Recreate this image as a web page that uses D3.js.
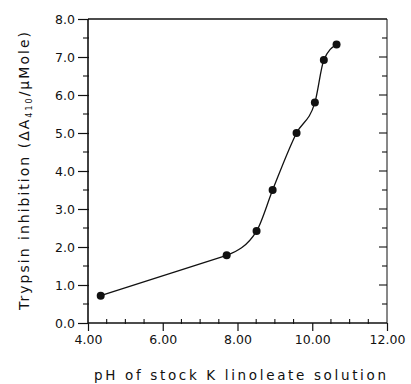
<!DOCTYPE html>
<html>
<head>
<meta charset="utf-8">
<script src="https://cdn.jsdelivr.net/npm/d3@7"></script>
<style>
  body { margin: 0; background: #fff; }
  svg { display: block; }
  text { font-family: "DejaVu Sans", sans-serif; fill: #111; }
</style>
</head>
<body>
<script>
// data
var phValues = [4.34, 7.71, 8.51, 8.94, 9.58, 10.07, 10.31, 10.65];
var inhibition = [0.72, 1.78, 2.42, 3.50, 5.00, 5.80, 6.92, 7.33];
var xTicks = [4, 6, 8, 10, 12];
var yTicks = [0, 1, 2, 3, 4, 5, 6, 7, 8];

var width = 411, height = 384;
var plotLeft = 88, plotRight = 387, plotTop = 19, plotBottom = 323;

var svg = d3.select("body").append("svg")
    .attr("width", width)
    .attr("height", height);

var x = d3.scaleLinear().domain([4, 12]).range([plotLeft, plotRight]);
var y = d3.scaleLinear().domain([0, 8]).range([plotBottom, plotTop]);

var ink = "#111";

// frame
svg.append("line").attr("x1", plotLeft).attr("x2", plotRight).attr("y1", plotTop).attr("y2", plotTop)
    .attr("stroke", ink).attr("stroke-width", 1.6);
svg.append("line").attr("x1", plotLeft).attr("x2", plotRight).attr("y1", plotBottom).attr("y2", plotBottom)
    .attr("stroke", ink).attr("stroke-width", 1.6);
svg.append("line").attr("x1", plotLeft).attr("x2", plotLeft).attr("y1", plotTop).attr("y2", plotBottom)
    .attr("stroke", ink).attr("stroke-width", 1.6);
svg.append("line").attr("x1", plotRight).attr("x2", plotRight).attr("y1", plotTop).attr("y2", plotBottom)
    .attr("stroke", ink).attr("stroke-width", 1);

// bottom axis
var xAxis = d3.axisBottom(x).tickValues(xTicks)
    .tickFormat(d3.format(".2f")).tickSize(8).tickPadding(4);
var gx = svg.append("g").attr("transform", "translate(0," + plotBottom + ")").call(xAxis);
gx.select(".domain").remove();
gx.selectAll("line").attr("stroke", ink).attr("stroke-width", 1.2);
gx.selectAll("text").style("font-size", "12.5px").style("font-family", "DejaVu Sans, sans-serif").attr("fill", ink);

// minor x ticks pointing in
var xMinor = d3.range(4.5, 12, 0.5).filter(function (d) { return d % 2 !== 0; });
svg.append("g").selectAll("line").data(xMinor).enter().append("line")
    .attr("x1", function (d) { return x(d); })
    .attr("x2", function (d) { return x(d); })
    .attr("y1", plotBottom + 1)
    .attr("y2", plotBottom - 4)
    .attr("stroke", ink).attr("stroke-width", 1.1);

// left axis, ticks stick out
var yAxis = d3.axisLeft(y).tickValues(yTicks)
    .tickFormat(d3.format(".1f")).tickSize(10).tickPadding(3);
var gy = svg.append("g").attr("transform", "translate(" + plotLeft + ",0)").call(yAxis);
gy.select(".domain").remove();
gy.selectAll("line").attr("stroke", ink).attr("stroke-width", 1.2).attr("x1", 1);
gy.selectAll("text").style("font-size", "12.5px").style("font-family", "DejaVu Sans, sans-serif").attr("fill", ink);

var yHalf = d3.range(0.5, 8, 1);
svg.append("g").selectAll("line").data(yHalf).enter().append("line")
    .attr("x1", plotLeft - 5).attr("x2", plotLeft + 1)
    .attr("y1", function (d) { return y(d); })
    .attr("y2", function (d) { return y(d); })
    .attr("stroke", ink).attr("stroke-width", 1.1);

// right axis ticks pointing in
var yRight = d3.range(0.5, 8, 0.5);
svg.append("g").selectAll("line").data(yRight).enter().append("line")
    .attr("x1", plotRight)
    .attr("x2", function (d) { return d % 1 === 0 ? plotRight - 8 : plotRight - 5; })
    .attr("y1", function (d) { return y(d); })
    .attr("y2", function (d) { return y(d); })
    .attr("stroke", ink).attr("stroke-width", 1.1);

// curve: straight first segment, smooth afterwards
var points = phValues.map(function (p, i) { return [p, inhibition[i]]; });
var straight = d3.line()
    .x(function (d) { return x(d[0]); })
    .y(function (d) { return y(d[1]); });
var smooth = d3.line()
    .x(function (d) { return x(d[0]); })
    .y(function (d) { return y(d[1]); })
    .curve(d3.curveMonotoneX);

svg.append("path").datum(points.slice(0, 2))
    .attr("d", straight)
    .attr("fill", "none")
    .attr("stroke", ink)
    .attr("stroke-width", 1.3);

svg.append("path").datum(points.slice(1))
    .attr("d", smooth)
    .attr("fill", "none")
    .attr("stroke", ink)
    .attr("stroke-width", 1.3);

svg.append("g").selectAll("circle").data(points).enter().append("circle")
    .attr("cx", function (d) { return x(d[0]); })
    .attr("cy", function (d) { return y(d[1]); })
    .attr("r", 4)
    .attr("fill", ink);

// axis titles
svg.append("text")
    .attr("x", 94).attr("y", 380)
    .attr("textLength", 292)
    .attr("lengthAdjust", "spacing")
    .style("font-size", "13.5px")
    .text("pH of stock K linoleate solution");

var yt = svg.append("text")
    .attr("transform", "translate(29,310) rotate(-90)")
    .attr("textLength", 278)
    .attr("lengthAdjust", "spacing")
    .style("font-size", "14px");
yt.append("tspan").text("Trypsin inhibition  (\u0394A");
yt.append("tspan").attr("dy", 3).style("font-size", "8px").text("410");
yt.append("tspan").attr("dy", -3).text("/\u03BCMole)");
</script>
</body>
</html>
